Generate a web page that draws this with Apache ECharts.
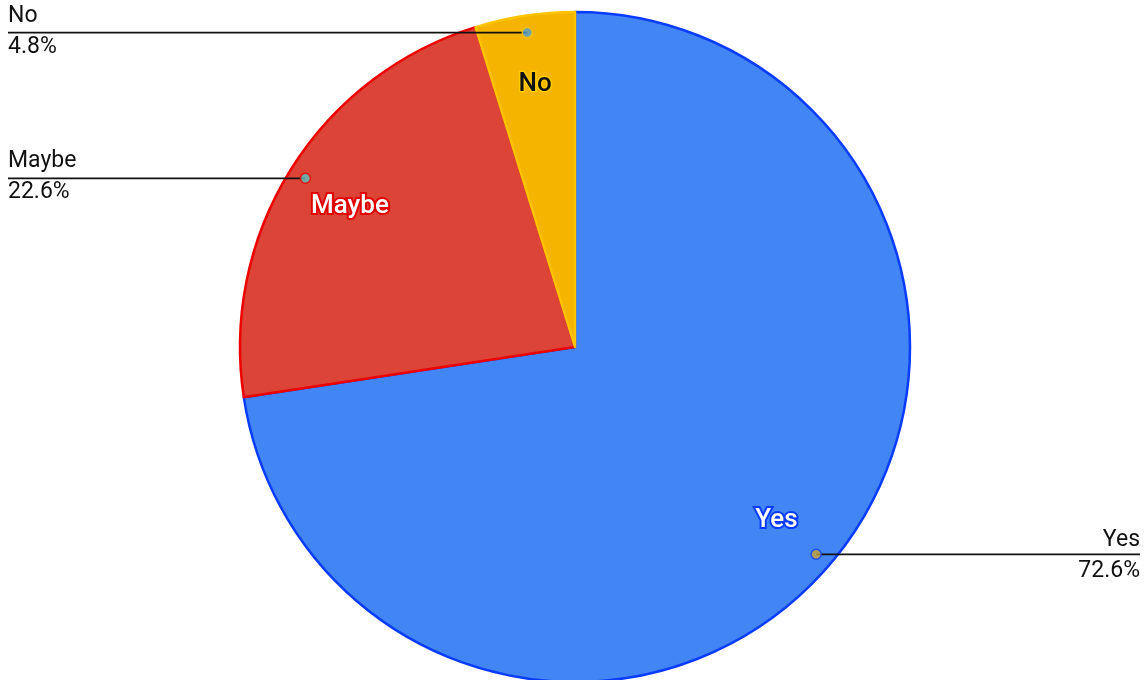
<!DOCTYPE html>
<html>
<head>
<meta charset="utf-8">
<script src="https://cdn.jsdelivr.net/npm/echarts@6/dist/echarts.min.js"></script>
<style>
  html, body { margin: 0; padding: 0; background: #ffffff; }
  #chart { width: 1148px; height: 680px; }
</style>
</head>
<body>
<div id="chart"></div>
<script>
// ---- data ----
const categories = ['Yes', 'Maybe', 'No'];
const values = [72.6, 22.6, 4.8];

// ---- styles ----
const fillColors = ['#4285F4', '#DB4437', '#F4B400'];
const borderColors = ['#0a3cff', '#ee0000', '#ffc400'];
const dotColors = ['#c8a536', '#5cc1c1', '#4d9fd6'];
const innerTextColors = ['#ffffff', '#ffffff', '#111111'];
const innerTextBorders = ['#0a3cff', '#e00000', '#ffcc00'];

const CX = 575, CY = 347, R = 335;
const DOT_R = 318;
const FONT = 'Roboto, "Noto Sans", sans-serif';

const total = values.reduce((a, b) => a + b, 0);
let cum = 0;
const mids = values.map(v => { const m = cum + v / 2; cum += v; return m; });

const mainData = categories.map((c, i) => ({
  name: c, value: values[i],
  itemStyle: { color: fillColors[i], borderColor: borderColors[i], borderWidth: 2.5 }
}));

const innerLabelData = categories.map((c, i) => ({
  name: c, value: values[i],
  label: { color: innerTextColors[i], textBorderColor: innerTextBorders[i],
           textBorderWidth: i === 2 ? 3 : 4 }
}));

const outerLabelData = categories.map((c, i) => ({ name: c, value: values[i] }));

const dotData = categories.map((c, i) => ({
  value: [DOT_R / R, mids[i]],
  itemStyle: { color: dotColors[i], borderColor: borderColors[i], borderWidth: 1.5 }
}));

const chart = echarts.init(document.getElementById('chart'), null, { renderer: 'canvas' });

chart.setOption({
  backgroundColor: '#ffffff',
  animation: false,
  polar: { center: [CX, CY], radius: R },
  angleAxis: {
    type: 'value', min: 0, max: total, startAngle: 90, clockwise: true,
    show: false, axisLine: { show: false }, splitLine: { show: false },
    axisLabel: { show: false }, axisTick: { show: false }
  },
  radiusAxis: {
    type: 'value', min: 0, max: 1, show: false,
    axisLine: { show: false }, splitLine: { show: false },
    axisLabel: { show: false }, axisTick: { show: false }
  },
  series: [
    {
      type: 'pie', name: 'main', center: [CX, CY], radius: [0, R],
      startAngle: 90, clockwise: true, z: 2,
      label: { show: false }, labelLine: { show: false },
      emphasis: { disabled: true },
      data: mainData
    },
    {
      type: 'pie', name: 'innerLabels', center: [CX, CY], radius: [190, R],
      startAngle: 90, clockwise: true, z: 3, silent: true,
      itemStyle: { color: 'rgba(0,0,0,0)', borderWidth: 0 },
      emphasis: { disabled: true },
      label: {
        show: true, position: 'inside', formatter: '{b}',
        fontFamily: FONT, fontSize: 26, fontWeight: 500
      },
      labelLine: { show: false },
      data: innerLabelData
    },
    {
      type: 'pie', name: 'outerLabels', center: [CX, CY], radius: [0, DOT_R],
      startAngle: 90, clockwise: true, z: 3, silent: true,
      itemStyle: { color: 'rgba(0,0,0,0)', borderWidth: 0 },
      emphasis: { disabled: true },
      label: {
        show: true, position: 'outside', alignTo: 'edge', edgeDistance: 8,
        formatter: p => p.name + '\n' + p.percent.toFixed(1) + '%',
        fontFamily: FONT, fontSize: 23, lineHeight: 31, color: '#111111'
      },
      labelLine: { show: true, length: 2, length2: 20, smooth: false,
                   lineStyle: { color: '#111111', width: 1.8 } },
      labelLayout: function (p) {
        const pts = p.labelLinePoints;
        if (!pts) return {};
        const p0 = pts[0];
        const isLeft = p0[0] < CX;
        const endX = isLeft ? p.labelRect.x : p.labelRect.x + p.labelRect.width;
        return {
          labelLinePoints: [[p0[0], p0[1]], [(p0[0] + endX) / 2, p0[1]], [endX, p0[1]]]
        };
      },
      data: outerLabelData
    },
    {
      type: 'scatter', coordinateSystem: 'polar', z: 6, silent: true,
      symbol: 'circle', symbolSize: 10,
      data: dotData
    }
  ]
});
</script>
</body>
</html>
